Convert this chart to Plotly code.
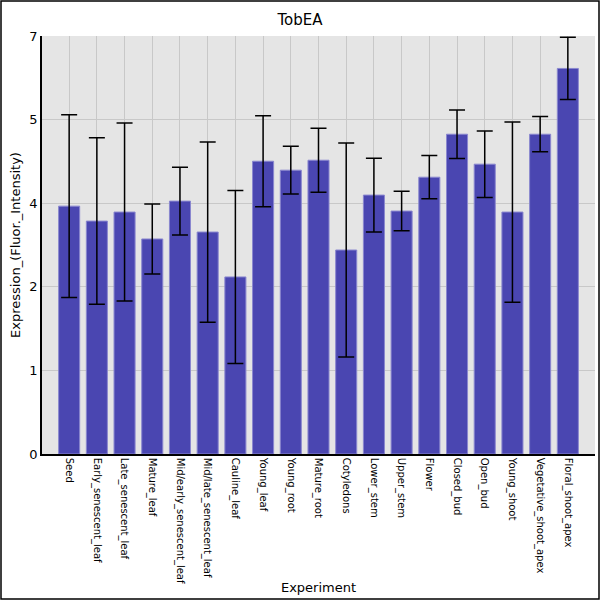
import plotly.graph_objects as go

categories = ["Seed", "Early_senescent_leaf", "Late_senescent_leaf", "Mature_leaf",
              "Mid/early_senescent_leaf", "Mid/late_senescent_leaf", "Cauline_leaf",
              "Young_leaf", "Young_root", "Mature_root", "Cotyledons", "Lower_stem",
              "Upper_stem", "Flower", "Closed_bud", "Open_bud", "Young_shoot",
              "Vegetative_shoot_apex", "Floral_shoot_apex"]
values = [2.965, 2.786, 2.894, 2.572, 3.025, 2.655, 2.118, 3.502, 3.395, 3.514,
          2.440, 3.097, 2.906, 3.311, 3.825, 3.467, 2.894, 3.825, 4.612]
errors = [1.092, 0.996, 1.064, 0.418, 0.406, 1.078, 1.035, 0.543, 0.286, 0.382,
          1.281, 0.442, 0.236, 0.259, 0.290, 0.398, 1.078, 0.211, 0.372]
ytick_vals = [0, 1, 2, 3, 4, 5]
ytick_text = ["0", "1", "2", "4", "5", "7"]

W, H = 600, 600
ML, MR, MT, MB = 42, 5, 36, 146

fig = go.Figure()
fig.add_trace(go.Bar(
    x=list(range(len(categories))), y=values,
    width=0.76,
    marker=dict(color="#4A46B1", line=dict(color="#8A87CF", width=1)),
    error_y=dict(type="data", array=errors, visible=True, color="black",
                 thickness=1.5, width=8),
))

pw = W - ML - MR
ph = H - MT - MB
fig.add_shape(type="rect", xref="paper", yref="paper",
              x0=-(ML - 1) / pw, x1=1 + (MR - 1) / pw, y0=-(MB - 1) / ph, y1=1 + (MT - 1) / ph,
              line=dict(color="black", width=1.5), layer="above")

fig.update_layout(
    width=W, height=H,
    margin=dict(l=ML, r=MR, t=MT, b=MB, autoexpand=False),
    paper_bgcolor="white", plot_bgcolor="#E5E5E5",
    font=dict(family="DejaVu Sans", color="black"),
    title=dict(text="TobEA", x=0.5, xanchor="center", y=1 - 20 / H, yanchor="middle",
               font=dict(size=15, color="black")),
    showlegend=False,
    xaxis=dict(
        range=[-0.98, 18.98], automargin=False,
        tickmode="array", tickvals=list(range(len(categories))), ticktext=categories,
        tickangle=90, tickfont=dict(size=10),
        showgrid=True, gridcolor="#C8C8C8", gridwidth=1,
        showline=True, linecolor="black", linewidth=1.5,
        ticks="", zeroline=False,
        title=dict(text="Experiment", font=dict(size=13), standoff=0),
    ),
    yaxis=dict(
        range=[0, 5], automargin=False,
        tickmode="array", tickvals=ytick_vals, ticktext=ytick_text,
        tickfont=dict(size=13),
        showgrid=True, gridcolor="#C8C8C8", gridwidth=1,
        showline=True, linecolor="black", linewidth=1.5,
        ticks="", zeroline=False,
        title=dict(text="Expression_(Fluor._Intensity)", font=dict(size=13), standoff=6),
    ),
)

post = "document.body.style.margin='0';"
fig.write_html("out.html", config={"displayModeBar": False}, post_script=post)
